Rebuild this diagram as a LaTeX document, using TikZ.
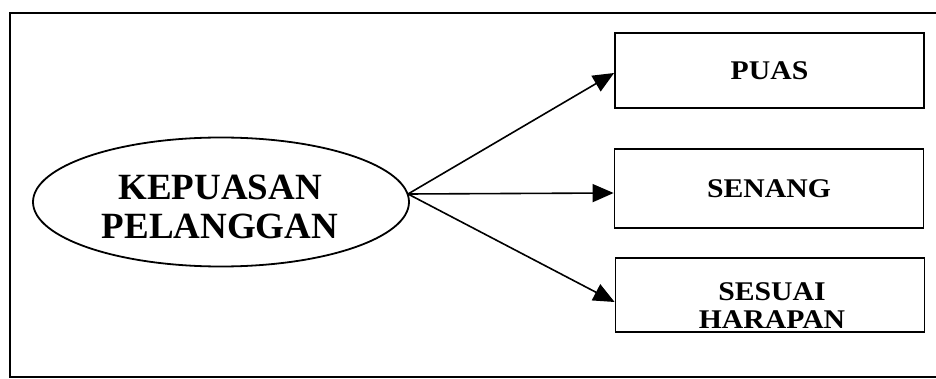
\documentclass[tikz,border=0pt]{standalone}
\usepackage{fontspec}
\setmainfont{Liberation Serif}
\newcommand\widetext[1]{\scalebox{1.1}[1]{#1}}
\usetikzlibrary{arrows.meta,shapes.geometric}
\begin{document}
\begin{tikzpicture}[x=1pt,y=-1pt,
  frameline/.style={line width=1.8pt},
  itembox/.style={draw,line width=1.8pt,minimum width=309pt,inner sep=0pt,
    font=\bfseries\fontsize{27}{28}\selectfont,align=center},
  boxtext/.style={inner sep=0pt,font=\bfseries\fontsize{27}{28}\selectfont,align=center},
  mainell/.style={draw,ellipse,line width=1.8pt,minimum width=376pt,minimum height=129pt,inner sep=0pt},
  elltext/.style={font=\bfseries\fontsize{37}{39.5}\selectfont,align=center},
  conn/.style={line width=1.6pt,-{Triangle[length=21pt,width=18pt]}}]
\useasboundingbox (0,0) rectangle (936,379);
% outer frame
\coordinate (ftl) at (10,13);
\coordinate (ftr) at (945,13);
\coordinate (fbl) at (10,377);
\coordinate (fbr) at (945,377);
\draw[frameline] (ftr) -- (ftl) -- (fbl) -- (fbr);
% nodes
\node[mainell] (kp) at (221,202) {};
\node[elltext] (kpt) at (220,207) {KEPUASAN\\PELANGGAN};
\node[itembox,minimum height=75pt] (puas) at (769.5,70.5) {\widetext{PUAS}};
\node[itembox,minimum height=79pt] (senang) at (769,188.5) {\widetext{SENANG}};
\node[itembox,minimum height=74pt] (sesuai) at (770,295) {};
\node[boxtext] (sesuait) at (772,306) {\widetext{SESUAI}\\\widetext{HARAPAN}};
% connectors
\coordinate (src) at (408,194);
\draw[conn] (src) -- ([yshift=-2.5pt]puas.west);
\draw[conn] (src) -- ([yshift=-4.5pt]senang.west);
\draw[conn] (src) -- ([yshift=-7pt]sesuai.west);
\end{tikzpicture}
\end{document}
